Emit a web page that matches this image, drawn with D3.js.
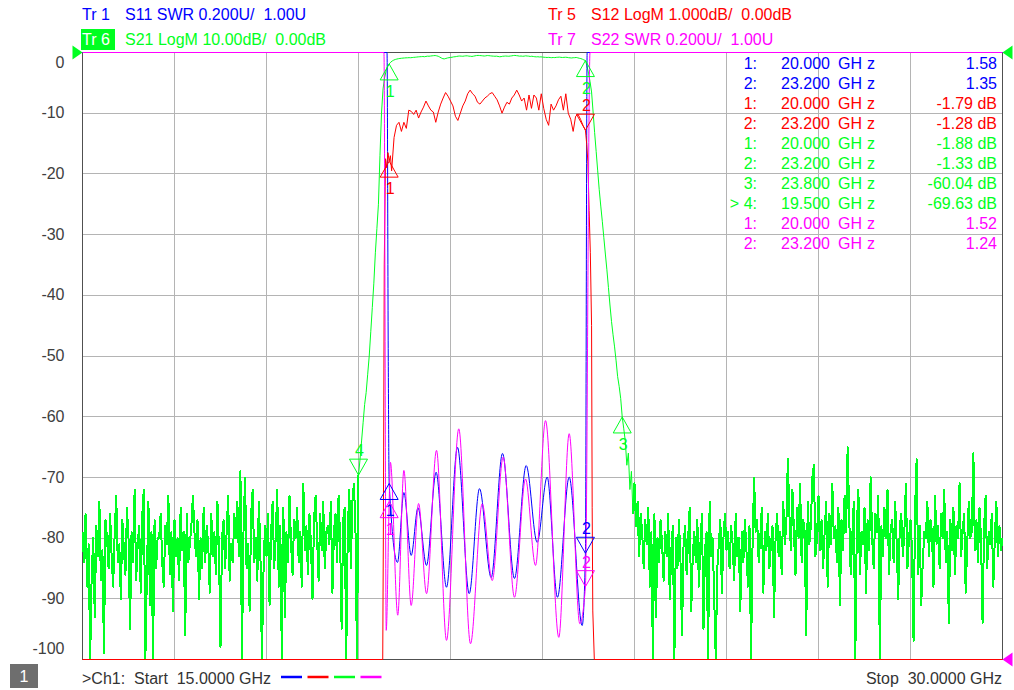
<!DOCTYPE html>
<html>
<head>
<meta charset="utf-8">
<script src="https://cdn.jsdelivr.net/npm/d3@7"></script>
<style>
  body { margin: 0; background: #ffffff; }
  svg { display: block; font-family: "Liberation Sans", Arial, sans-serif; }
  text { white-space: pre; }
</style>
</head>
<body>
<div id="vna"></div>
<script>
const width = 1014;
const height = 690;
const margin = {top: 52.5, right: 11.5, bottom: 30.5, left: 82.5};
const innerWidth = width - margin.left - margin.right;
const innerHeight = height - margin.top - margin.bottom;

const blue = "#0000ff", red = "#ff0000", green = "#00ff21", magenta = "#ff00ff";

// sweep
const freqStart = 15, freqStop = 30, freqStep = 0.025;
const freqGrid = [15, 16.5, 18, 19.5, 21, 22.5, 24, 25.5, 27, 28.5, 30];
const dbTicks = [0, -10, -20, -30, -40, -50, -60, -70, -80, -90, -100];

// Tr 6  S21 LogM (dB), sampled every 25 MHz
const s21LowNoise = [ // 15.000 .. 19.475 GHz
  -79,-84,-76,-88,-81,-100,-86,-80,-93,-78,-83,-74,-87,-82,-99,-77,-80,-85,-76,-83,
  -88,-79,-73,-84,-81,-90,-77,-82,-86,-75,-80,-95,-79,-84,-72,-87,-81,-78,-89,-76,
  -72,-100,-86,-74,-91,-79,-100,-77,-85,-80,-80,-76,-84,-88,-78,-81,-73,-86,-79,-92,
  -77,-83,-80,-87,-75,-82,-79,-96,-76,-84,-81,-78,-73,-79,-83,-77,-90,-80,-85,-75,
  -84,-78,-81,-89,-76,-83,-79,-86,-74,-82,-98,-80,-77,-85,-79,-73,-87,-81,-84,-76,
  -80,-74,-83,-69,-100,-79,-70,-85,-81,-92,-76,-72,-84,-80,-87,-74,-82,-100,-86,-78,
  -83,-76,-91,-79,-74,-85,-80,-72,-88,-78,-100,-75,-93,-79,-84,-73,-81,-86,-77,-80,
  -75,-84,-79,-88,-71,-82,-78,-86,-76,-81,-90,-77,-73,-80,-87,-76,-82,-74,-85,-79,
  -78,-81,-74,-89,-79,-76,-84,-73,-80,-95,-77,-75,-100,-79,-72,-85,-74,-71,-78,-100
];
const s21LowSkirt = [ // 19.500 .. 19.975 GHz
  -69.63,-67,-64,-61,-58,-56,-53,-50,-46,-42,-38,-33,-29,-25,-17,-10,-6,-4.2,-3,-2.3
];
const s21Pass = [ // 20.000 .. 23.200 GHz
  -1.88,
  -1.6,-1.4,-1.25,-1.15,-1.08,-1.02,-0.98,-0.95,-0.92,-0.9,-0.88,-0.87,-0.85,-0.86,-0.83,-0.8,-0.78,-0.75,-0.72,-0.7,
  -0.68,-0.66,-0.7,-0.65,-0.6,-0.62,-0.58,-0.55,-0.52,-0.5,-0.55,-0.62,-0.75,-0.9,-1.02,-1.05,-0.98,-0.9,-0.85,-0.82,
  -0.78,-0.72,-0.7,-0.65,-0.6,-0.58,-0.6,-0.62,-0.58,-0.55,-0.55,-0.6,-0.62,-0.65,-0.6,-0.55,-0.5,-0.48,-0.5,-0.52,
  -0.55,-0.58,-0.55,-0.5,-0.52,-0.55,-0.58,-0.6,-0.62,-0.6,-0.65,-0.7,-0.68,-0.62,-0.6,-0.58,-0.6,-0.62,-0.58,-0.55,
  -0.5,-0.48,-0.52,-0.55,-0.6,-0.58,-0.62,-0.6,-0.55,-0.58,-0.6,-0.65,-0.62,-0.66,-0.7,-0.72,-0.7,-0.74,-0.72,-0.75,
  -0.78,-0.8,-0.82,-0.8,-0.83,-0.85,-0.82,-0.84,-0.8,-0.78,-0.76,-0.8,-0.82,-0.8,-0.78,-0.8,-0.85,-0.88,-0.9,-0.86,
  -0.85,-0.82,-0.88,-0.95,-1.0,-1.1,-1.22,
  -1.33
];
const s21HighSkirt = [ // 23.225 .. 23.975 GHz
  -2.2,-3.4,-4.8,-6.5,-9.8,-13.2,-16.3,-19.5,-22.6,-25.3,-27.8,-30.5,-33.2,-35.8,-38.7,-41.6,
  -44.3,-46.5,-48.5,-50.8,-53.4,-55,-57,-60.04,-62,-64,-68,-66,-72,-69,-76
];
const s21HighNoise = [ // 24.000 .. 30.000 GHz
  -71,-78,-74,-83,-76,-79,-85,-77,-81,-75,-88,-79,-100,-76,-93,-80,-84,-77,-81,-87,
  -79,-83,-76,-90,-82,-78,-100,-80,-85,-77,-84,-96,-81,-78,-86,-80,-75,-92,-83,-79,
  -84,-77,-88,-81,-76,-95,-82,-79,-100,-74,-83,-80,-90,-100,-85,-81,-77,-89,-80,-76,
  -82,-79,-85,-78,-81,-87,-76,-83,-80,-92,-79,-84,-77,-82,-88,-78,-100,-81,-70,-79,
  -77,-84,-80,-75,-89,-79,-82,-76,-85,-81,-78,-93,-80,-76,-83,-79,-86,-74,-81,-78,
  -67,-76,-82,-72,-79,-86,-75,-80,-71,-84,-77,-79,-96,-74,-81,-78,-70,-68,-83,-80,
  -73,-82,-77,-85,-79,-74,-88,-76,-81,-71,-80,-78,-84,-75,-91,-77,-82,-73,-79,-65,
  -76,-86,-80,-74,-100,-78,-72,-86,-79,-81,-75,-89,-77,-82,-70,-80,-85,-76,-79,-73,
  -100,-78,-83,-75,-80,-72,-86,-79,-77,-84,-74,-81,-90,-78,-76,-83,-79,-71,-85,-80,
  -77,-82,-97,-75,-67,-86,-78,-91,-84,-79,-80,-74,-83,-77,-79,-88,-73,-81,-78,-85,
  -76,-80,-72,-84,-79,-94,-77,-82,-75,-86,-78,-80,-71,-83,-79,-76,-89,-81,-74,-80,
  -79,-66,-82,-77,-84,-75,-80,-94,-78,-73,-85,-79,-81,-76,-88,-80,-74,-83,-78,-82,-80
];

// Tr 5  S12 LogM (dB)
const s12LowEdge = [[15.0,-81],[19.5,-70],[19.85,-20],[19.895,-11],[19.905,-8],[19.92,-3.5],[19.94,-1.75],
  [19.96,-1.9],[19.98,-1.65],[20.0,-1.79],[20.02,-1.7],[20.04,-1.95]];
const s12PassStart = 20.08, s12PassStep = 0.04;
const s12Pass = [
  -1.4,-1.2,-1.15,-1.3,-1.15,-1.25,-0.95,-0.97,-1.02,-0.95,
  -1.08,-0.98,-0.9,-0.8,-0.88,-0.95,-0.98,-1.15,-0.98,-0.85,
  -0.75,-0.66,-0.72,-0.8,-0.88,-1.05,-1.12,-1.0,-0.88,-0.8,
  -0.68,-0.62,-0.68,-0.72,-0.82,-0.85,-0.8,-0.75,-0.72,-0.68,
  -0.66,-0.72,-0.78,-0.88,-1.0,-0.9,-0.82,-0.85,-0.75,-0.7,
  -0.62,-0.7,-0.8,-0.75,-0.95,-0.7,-0.92,-0.7,-0.75,-0.95,
  -0.68,-0.92,-1.1,-1.2,-0.85,-0.95,-0.88,-0.78,-0.72,-0.95,
  -0.68,-1.0,-1.1,-1.3,-1.05,-1.02,-1.1,-1.2
];
const s12HighEdge = [[23.2,-1.28],[23.22,-1.5],[23.24,-1.8],[23.26,-2.6],[23.28,-3.3],[23.3,-4.5],[23.31,-7.5],
  [23.32,-9.2],[23.345,-14],[23.6,-41],[24.0,-80],[30.0,-80]];

// Tr 1  S11 SWR and Tr 7  S22 SWR  (GHz, SWR) at the ripple turning points
const s11Swr = [[15.0,9],[19.965,8],[19.985,2.0],[20.0,1.58],[20.136,1.32],[20.24,1.55],[20.359,1.343],
  [20.47,1.5],[20.609,1.31],[20.765,1.617],[20.935,1.238],[21.114,1.699],[21.305,1.217],[21.473,1.563],
  [21.663,1.27],[21.848,1.679],[22.043,1.267],[22.234,1.639],[22.413,1.386],[22.576,1.601],[22.744,1.205],
  [22.935,1.601],[23.147,1.112],[23.2,1.35],[23.228,8],[30.0,9]];
const s22Swr = [[15.0,9],[19.915,8],[19.952,1.096],[20.0,1.52],[20.02,1.65],[20.14,1.146],[20.24,1.623],
  [20.359,1.178],[20.48,1.514],[20.609,1.217],[20.772,1.689],[20.935,1.063],[21.135,1.76],[21.326,1.052],
  [21.517,1.513],[21.68,1.26],[21.859,1.667],[22.043,1.205],[22.223,1.595],[22.386,1.31],[22.549,1.787],
  [22.766,1.073],[22.935,1.744],[23.108,1.118],[23.2,1.24],[23.275,8],[30.0,9]];

// markers: [number, GHz, value]
const s11Markers = [[1, 20.0, 1.58], [2, 23.2, 1.35]];
const s12Markers = [[1, 20.0, -1.79], [2, 23.2, -1.28]];
const s21Markers = [[1, 20.0, -1.88], [2, 23.2, -1.33], [3, 23.8, -60.04], [4, 19.5, -69.63]];
const s22Markers = [[1, 20.0, 1.52], [2, 23.2, 1.24]];
const activeMarker = 4;

const stepped = (start, step, values) => values.map((v, i) => [start + i * step, v]);

const s21Low = stepped(freqStart, freqStep, s21LowNoise);
const s21Mid = [
  ...stepped(19.5, freqStep, s21LowSkirt),
  ...stepped(20.0, freqStep, s21Pass),
  ...stepped(23.225, freqStep, s21HighSkirt)
];
const s21High = stepped(24.0, freqStep, s21HighNoise);
const s12 = [...s12LowEdge, ...stepped(s12PassStart, s12PassStep, s12Pass), ...s12HighEdge];

const locale = d3.formatLocale({decimal: ".", thousands: ",", grouping: [3], currency: ["", ""], minus: "-"});
const fmtF = locale.format(".3f");
const fmtV = locale.format(".2f");
const fmtSweep = locale.format(".4f");

const svg = d3.select("#vna")
              .append("svg")
              .attr("width", width)
              .attr("height", height)
              .attr("viewBox", `0 0 ${width} ${height}`);

svg.append("rect")
   .attr("width", width)
   .attr("height", height)
   .attr("fill", "#ffffff");

const innerChart = svg.append("g")
                      .attr("transform", `translate(${margin.left}, ${margin.top})`);

const xScale = d3.scaleLinear().domain([freqStart, freqStop]).range([0, innerWidth]);
const yScaleS21 = d3.scaleLinear().domain([-100, 0]).range([innerHeight, 0]).clamp(true);
const yScaleS12 = d3.scaleLinear().domain([-10, 0]).range([innerHeight, 0]).clamp(true);
const yScaleSwr = d3.scaleLinear().domain([1, 3]).range([innerHeight, 0]).clamp(true);

// grid
innerChart.append("g")
          .selectAll("line")
          .data(freqGrid.slice(1, -1))
          .join("line")
          .attr("x1", d => xScale(d))
          .attr("x2", d => xScale(d))
          .attr("y1", 0)
          .attr("y2", innerHeight)
          .attr("stroke", "#b4b4b4")
          .attr("shape-rendering", "crispEdges");

innerChart.append("g")
          .selectAll("line")
          .data(dbTicks.slice(1, -1))
          .join("line")
          .attr("x1", 0)
          .attr("x2", innerWidth)
          .attr("y1", d => yScaleS21(d))
          .attr("y2", d => yScaleS21(d))
          .attr("stroke", "#b4b4b4")
          .attr("shape-rendering", "crispEdges");

innerChart.append("rect")
          .attr("width", innerWidth)
          .attr("height", innerHeight)
          .attr("fill", "none")
          .attr("stroke", "#505050")
          .attr("shape-rendering", "crispEdges");

// y labels (active trace scale), first and last kept inside the frame
innerChart.append("g")
          .call(d3.axisLeft(yScaleS21).tickValues(dbTicks).tickFormat(d => String(d)).tickSize(0).tickPadding(18))
          .call(g => g.select(".domain").remove())
          .call(g => g.selectAll(".tick")
                      .attr("transform", d => `translate(0, ${Math.max(10, Math.min(innerHeight - 11, yScaleS21(d)))})`))
          .attr("font-size", 16)
          .attr("font-family", "'Liberation Sans', Arial, sans-serif")
          .selectAll("text")
          .attr("fill", "#404040");

// traces
const traceLine = (yScale, curve) => d3.line()
                                         .x(d => xScale(d[0]))
                                         .y(d => yScale(d[1]))
                                         .curve(curve);

const traces = [
  {data: [...s21Low, s21Mid[0]], y: yScaleS21, color: green, curve: d3.curveLinear, w: 2, crisp: true},
  {data: s21Mid, y: yScaleS21, color: green, curve: d3.curveLinear, w: 1},
  {data: [s21Mid[s21Mid.length - 1], ...s21High], y: yScaleS21, color: green, curve: d3.curveLinear, w: 2, crisp: true},
  {data: s11Swr, y: yScaleSwr, color: blue, curve: d3.curveMonotoneX, w: 1},
  {data: s12, y: yScaleS12, color: red, curve: d3.curveLinear, w: 1},
  {data: s22Swr, y: yScaleSwr, color: magenta, curve: d3.curveMonotoneX, w: 1}
];

innerChart.append("g")
          .selectAll("path")
          .data(traces)
          .join("path")
          .attr("d", d => traceLine(d.y, d.curve)(d.data))
          .attr("fill", "none")
          .attr("stroke", d => d.color)
          .attr("stroke-width", d => d.w)
          .attr("stroke-linejoin", "round")
          .attr("shape-rendering", d => d.crisp ? "crispEdges" : "auto");

// reference position arrows
const arrows = [
  {x: 0, y: yScaleS21(0), dir: 1, color: green},
  {x: innerWidth, y: yScaleS21(0), dir: -1, color: green},
  {x: innerWidth, y: yScaleSwr(1), dir: -1, color: magenta}
];
innerChart.append("g")
          .selectAll("path")
          .data(arrows)
          .join("path")
          .attr("d", d => `M${d.x},${d.y} L${d.x - 10 * d.dir},${d.y - 7} L${d.x - 10 * d.dir},${d.y + 7} Z`)
          .attr("fill", d => d.color);

// markers on traces
const markerLayer = innerChart.append("g");
const drawMarkers = (markers, yScale, color) => {
  markers.forEach(([n, f, v]) => {
    const mx = xScale(f);
    const my = yScale(v);
    const up = n % 2 === 1 || my - 34 < 0;
    const dy = up ? 16 : -16;
    markerLayer.append("path")
               .attr("d", `M${mx},${my} L${mx - 9},${my + dy} L${mx + 9},${my + dy} Z`)
               .attr("fill", "none")
               .attr("stroke", color)
               .attr("stroke-width", 1);
    markerLayer.append("text")
               .attr("x", mx + 1)
               .attr("y", up ? my + 33 : my - 19)
               .attr("text-anchor", "middle")
               .attr("fill", color)
               .style("font-size", "16px")
               .text(n);
  });
};
drawMarkers(s11Markers, yScaleSwr, blue);
drawMarkers(s12Markers, yScaleS12, red);
drawMarkers(s21Markers, yScaleS21, green);
drawMarkers(s22Markers, yScaleSwr, magenta);

// marker table
const tableRows = [
  ...s11Markers.map(m => ({m, color: blue, unit: ""})),
  ...s12Markers.map(m => ({m, color: red, unit: " dB"})),
  ...s21Markers.map(m => ({m, color: green, unit: " dB", active: m[0] === activeMarker})),
  ...s22Markers.map(m => ({m, color: magenta, unit: ""}))
];
const table = svg.append("g")
                 .style("font-size", "16px");
tableRows.forEach((r, i) => {
  const y = 69 + i * 20;
  table.append("text")
       .attr("x", 757).attr("y", y)
       .attr("text-anchor", "end")
       .attr("fill", r.color)
       .text((r.active ? "> " : "") + r.m[0] + ":");
  table.append("text")
       .attr("x", 830).attr("y", y)
       .attr("text-anchor", "end")
       .attr("fill", r.color)
       .text(fmtF(r.m[1]));
  const unit = table.append("text")
                    .attr("x", 838).attr("y", y)
                    .attr("fill", r.color);
  unit.append("tspan").text("GH");
  unit.append("tspan").attr("dx", 5).text("z");
  table.append("text")
       .attr("x", 997).attr("y", y)
       .attr("text-anchor", "end")
       .attr("fill", r.color)
       .text(fmtV(r.m[2]) + r.unit);
});

// trace headers
const headers = [
  {tr: "Tr 1", label: "S11 SWR 0.200U/  1.00U", x: 82, y: 20, color: blue},
  {tr: "Tr 6", label: "S21 LogM 10.00dB/  0.00dB", x: 82, y: 45, color: green, active: true},
  {tr: "Tr 5", label: "S12 LogM 1.000dB/  0.00dB", x: 548, y: 20, color: red},
  {tr: "Tr 7", label: "S22 SWR 0.200U/  1.00U", x: 548, y: 45, color: magenta}
];
const headerLayer = svg.append("g").style("font-size", "16px");
headers.forEach(h => {
  if (h.active) {
    headerLayer.append("rect")
               .attr("x", h.x - 1).attr("y", h.y - 16)
               .attr("width", 34).attr("height", 21)
               .attr("fill", h.color);
  }
  headerLayer.append("text")
             .attr("x", h.x).attr("y", h.y)
             .attr("fill", h.active ? "#ffffff" : h.color)
             .text(h.tr);
  headerLayer.append("text")
             .attr("x", h.x + 43).attr("y", h.y)
             .attr("fill", h.color)
             .text(h.label);
});

// footer
const footer = svg.append("g").style("font-size", "16px");
footer.append("rect")
      .attr("x", 10).attr("y", 664)
      .attr("width", 28).attr("height", 24)
      .attr("fill", "#6e6e6e");
footer.append("text")
      .attr("x", 24).attr("y", 682)
      .attr("text-anchor", "middle")
      .attr("fill", "#ffffff")
      .text("1");
footer.append("text")
      .attr("x", 82).attr("y", 684)
      .attr("fill", "#333333")
      .text(">Ch1:  Start  " + fmtSweep(freqStart) + " GHz");
footer.selectAll("line")
      .data([blue, red, green, magenta])
      .join("line")
      .attr("x1", (d, i) => 281 + i * 26.5)
      .attr("x2", (d, i) => 302 + i * 26.5)
      .attr("y1", 677)
      .attr("y2", 677)
      .attr("stroke", d => d)
      .attr("stroke-width", 2.5);
footer.append("text")
      .attr("x", 1002).attr("y", 684)
      .attr("text-anchor", "end")
      .attr("fill", "#333333")
      .text("Stop  " + fmtSweep(freqStop) + " GHz");
</script>
</body>
</html>
